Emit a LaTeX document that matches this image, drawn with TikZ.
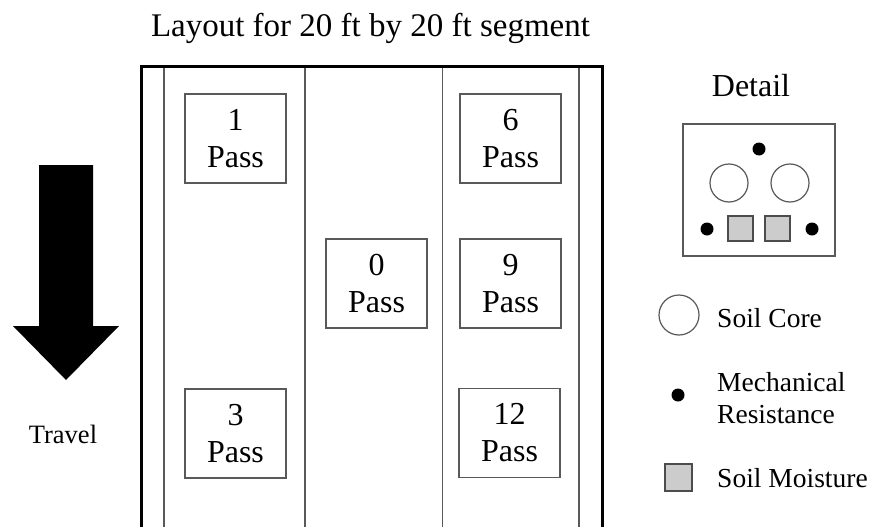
\documentclass[tikz,border=0pt]{standalone}
\usepackage{fontspec}
\setmainfont{Liberation Serif}
\begin{document}
\begin{tikzpicture}[x=1pt,y=-1pt,
  lane/.style={draw=black!65, line width=1.4pt},
  passbox/.style={draw=black!65, line width=1.4pt, minimum width=101pt, minimum height=89pt,
    inner sep=0pt, align=center, font=\fontsize{32}{37}\selectfont},
  dotm/.style={circle, fill=black, draw=none, minimum size=13pt, inner sep=0pt},
  corec/.style={circle, draw=black!65, line width=1.2pt, minimum size=38pt, inner sep=0pt},
  moist/.style={draw=black!70, fill=black!20, line width=1.2pt, minimum size=25pt, inner sep=0pt},
  legtext/.style={anchor=base west, inner sep=0pt, font=\fontsize{27.5}{31.5}\selectfont, align=left}
]
\useasboundingbox (0,0) rectangle (874,527);
\fill[white] (0,0) rectangle (874,527);

% title
\node[anchor=base, inner sep=0pt, font=\fontsize{33}{38}\selectfont] (title) at (370.5,37) {Layout for 20 ft by 20 ft segment};

% field lanes
\draw[lane] (164,66) -- (164,527);
\draw[lane] (305,66) -- (305,527);
\draw[lane] (442.5,66) -- (442.5,527);
\draw[lane] (579,66) -- (579,527);
\draw[black, line width=3pt] (141,527) -- (141,66) -- (602,66) -- (602,527);

% pass boxes
\node[passbox] (p1) at (235.5,138.5) {1\\Pass};
\node[passbox] (p6) at (510.5,138.5) {6\\Pass};
\node[passbox] (p0) at (376.5,283.5) {0\\Pass};
\node[passbox] (p9) at (510.5,283.5) {9\\Pass};
\node[passbox] (p3) at (235.5,433.5) {3\\Pass};
\node[passbox] (p12) at (509.5,433) {12\\Pass};

% travel arrow
\fill[black] (39,165) -- (93,165) -- (93,326) -- (119,326) -- (66,380) -- (13,326) -- (39,326) -- cycle;
\node[anchor=base, inner sep=0pt, font=\fontsize{26.5}{30}\selectfont] (travel) at (63,443) {Travel};

% detail
\node[anchor=base, inner sep=0pt, font=\fontsize{32}{37}\selectfont] (detailt) at (751,96) {Detail};
\draw[draw=black!65, line width=1.4pt] (683,124) rectangle (835,256);
\node[dotm] (d1) at (759,149) {};
\node[corec] (c1) at (729,183) {};
\node[corec] (c2) at (790,183) {};
\node[dotm] (d2) at (707,229) {};
\node[dotm] (d3) at (812,229) {};
\node[moist] (m1) at (740.5,228.5) {};
\node[moist] (m2) at (777.5,228.5) {};

% legend
\node[corec, minimum size=40pt] (lc) at (679,315) {};
\node[legtext] (lct) at (717,327) {Soil Core};
\node[dotm] (ld) at (678,395) {};
\node[legtext] (ldt) at (717,423) {Mechanical\\Resistance};
\node[moist, minimum size=27pt] (lm) at (678.5,477.5) {};
\node[legtext] (lmt) at (717,487) {Soil Moisture};
\end{tikzpicture}
\end{document}
